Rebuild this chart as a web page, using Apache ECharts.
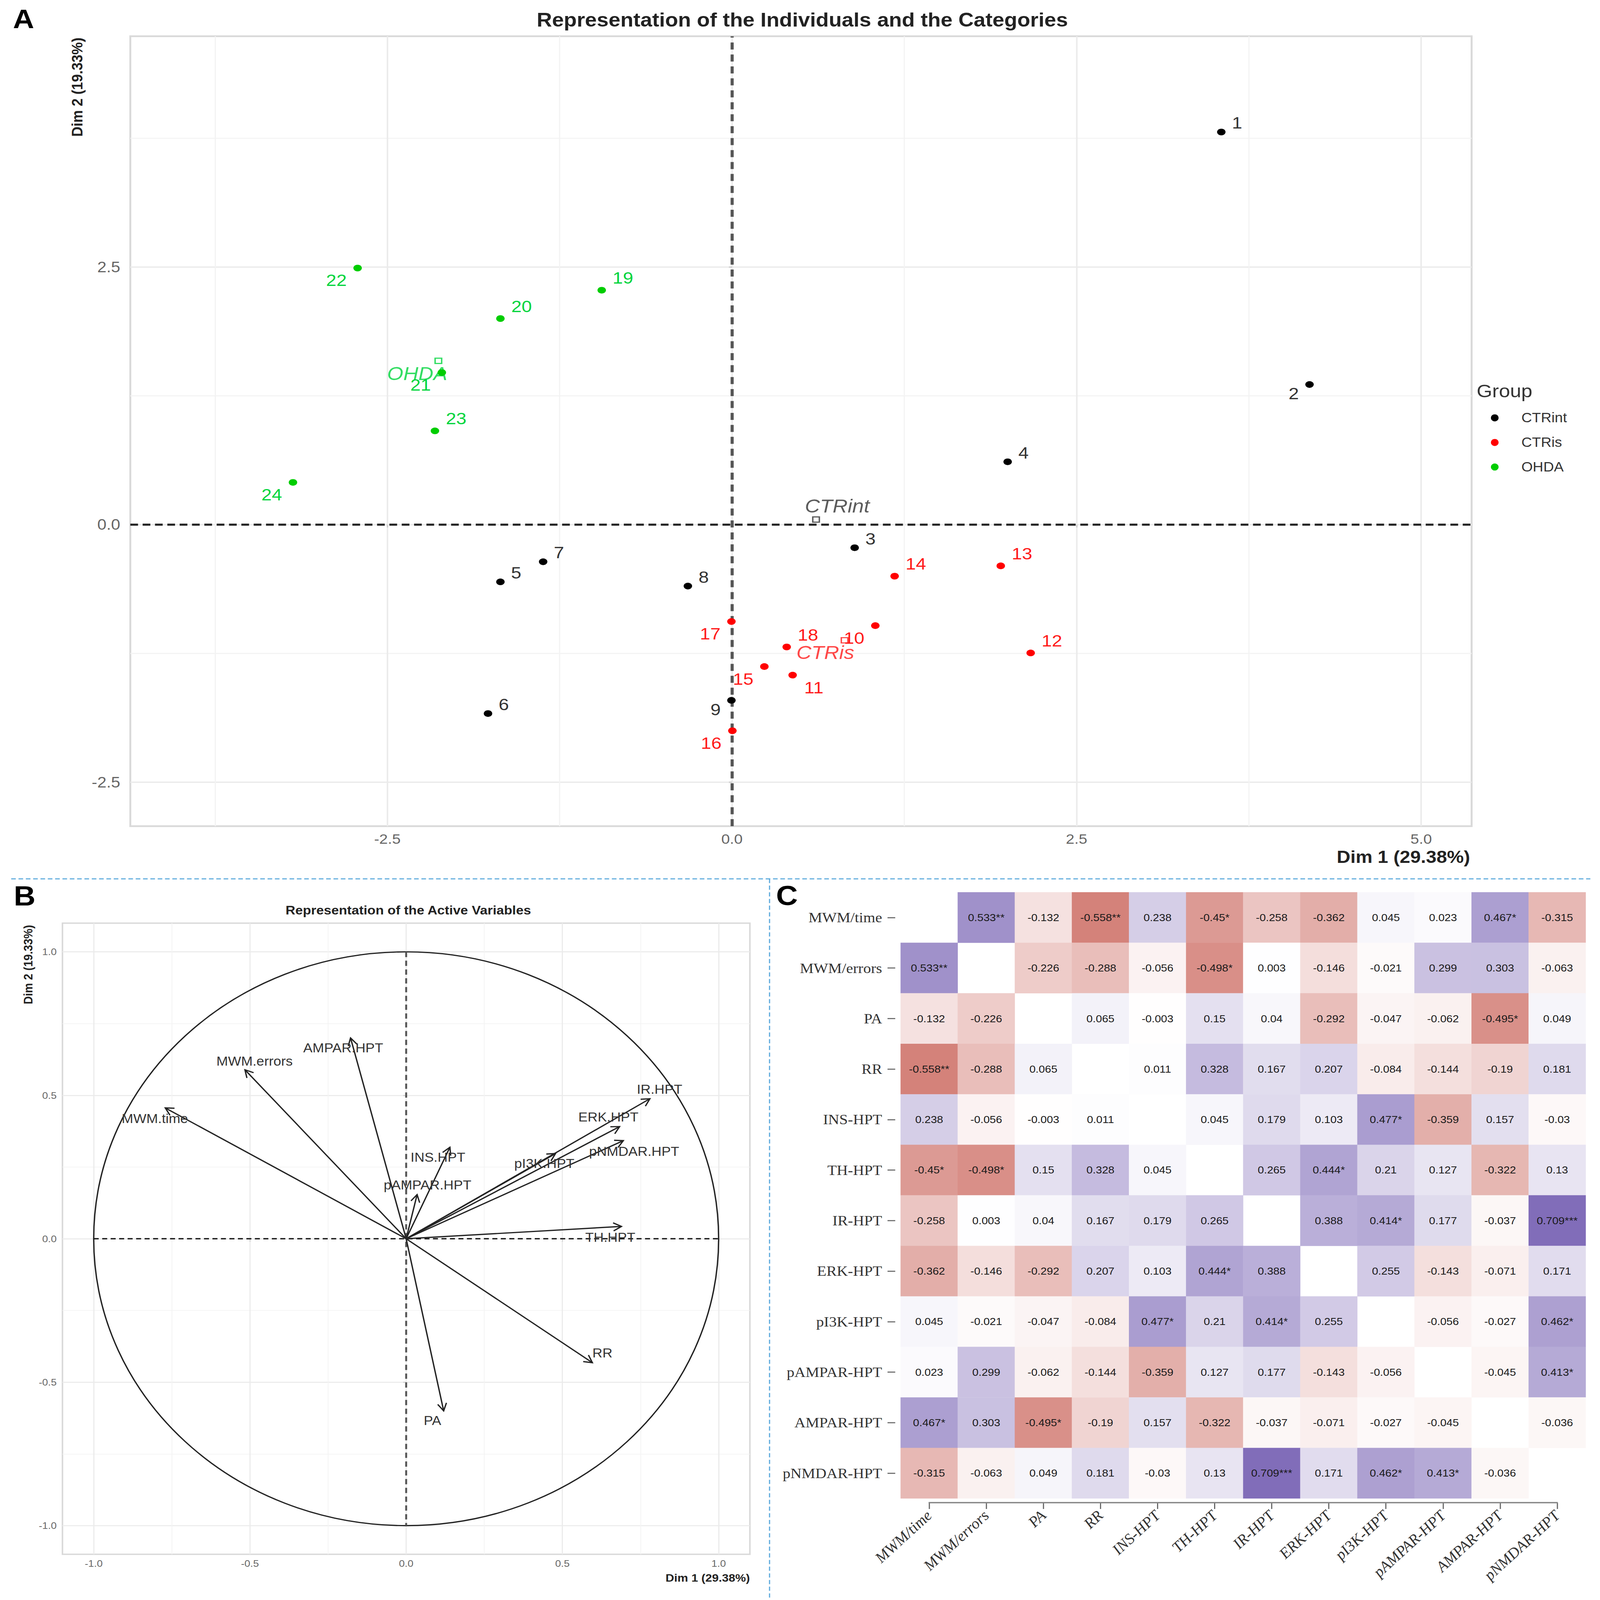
<!DOCTYPE html>
<html>
<head>
<meta charset="utf-8">
<style>html,body{margin:0;padding:0;background:#fff;overflow:hidden;width:100%;height:100%}#c{width:4150px;height:4553px;position:absolute;left:0;top:0;transform-origin:0 0}</style>
<script src="https://cdn.jsdelivr.net/npm/echarts@6/dist/echarts.min.js"></script>
</head>
<body>
<div id="c"></div>
<script>
// ---------- Panel A data ----------
const ctrintIds = [1,2,3,4,5,6,7,8,9];
const ctrintX = [3.55,4.19,0.89,2.00,-1.68,-1.77,-1.37,-0.32,-0.004];
const ctrintY = [3.81,1.36,-0.224,0.61,-0.555,-1.833,-0.36,-0.596,-1.705];
const ctrisIds = [10,11,12,13,14,15,16,17,18];
const ctrisX = [1.04,0.44,2.167,1.95,1.18,0.235,0.003,-0.004,0.397];
const ctrisY = [-0.98,-1.46,-1.245,-0.40,-0.50,-1.377,-2.00,-0.94,-1.187];
const ohdaIds = [19,20,21,22,23,24];
const ohdaX = [-0.945,-1.68,-2.105,-2.716,-2.155,-3.185];
const ohdaY = [2.275,2.0,1.476,2.49,0.91,0.41];
const groupNames = ['CTRint','CTRis','OHDA'];
const groupCentreX = [0.61,0.817,-2.13];
const groupCentreY = [0.05,-1.122,1.59];
const labelsLowerLeft = [2,9,10,15,16,17,21,22,24];
const labelsLowerRight = [11];
const majorTicksAX = [-2.5,0,2.5,5];
const minorTicksAX = [-3.75,-1.25,1.25,3.75];
const majorTicksAY = [-2.5,0,2.5];
const minorTicksAY = [-1.25,1.25,3.75];

// ---------- Panel B data ----------
const varNames = ['MWM.time','MWM.errors','AMPAR.HPT','INS.HPT','pAMPAR.HPT','pI3K.HPT','ERK.HPT','IR.HPT','pNMDAR.HPT','TH.HPT','RR','PA'];
const varX = [-0.771,-0.516,-0.178,0.14,0.035,0.478,0.683,0.78,0.695,0.689,0.596,0.12];
const varY = [0.456,0.589,0.70,0.319,0.154,0.297,0.391,0.488,0.342,0.043,-0.432,-0.60];
const majorTicksB = [-1,-0.5,0,0.5,1];
const minorTicksB = [-0.75,-0.25,0.25,0.75];

// ---------- Panel C data ----------
const corrNames = ['MWM/time','MWM/errors','PA','RR','INS-HPT','TH-HPT','IR-HPT','ERK-HPT','pI3K-HPT','pAMPAR-HPT','AMPAR-HPT','pNMDAR-HPT'];
const corrRow1 = ['','0.533**','-0.132','-0.558**','0.238','-0.45*','-0.258','-0.362','0.045','0.023','0.467*','-0.315'];
const corrRow2 = ['0.533**','','-0.226','-0.288','-0.056','-0.498*','0.003','-0.146','-0.021','0.299','0.303','-0.063'];
const corrRow3 = ['-0.132','-0.226','','0.065','-0.003','0.15','0.04','-0.292','-0.047','-0.062','-0.495*','0.049'];
const corrRow4 = ['-0.558**','-0.288','0.065','','0.011','0.328','0.167','0.207','-0.084','-0.144','-0.19','0.181'];
const corrRow5 = ['0.238','-0.056','-0.003','0.011','','0.045','0.179','0.103','0.477*','-0.359','0.157','-0.03'];
const corrRow6 = ['-0.45*','-0.498*','0.15','0.328','0.045','','0.265','0.444*','0.21','0.127','-0.322','0.13'];
const corrRow7 = ['-0.258','0.003','0.04','0.167','0.179','0.265','','0.388','0.414*','0.177','-0.037','0.709***'];
const corrRow8 = ['-0.362','-0.146','-0.292','0.207','0.103','0.444*','0.388','','0.255','-0.143','-0.071','0.171'];
const corrRow9 = ['0.045','-0.021','-0.047','-0.084','0.477*','0.21','0.414*','0.255','','-0.056','-0.027','0.462*'];
const corrRow10 = ['0.023','0.299','-0.062','-0.144','-0.359','0.127','0.177','-0.143','-0.056','','-0.045','0.413*'];
const corrRow11 = ['0.467*','0.303','-0.495*','-0.19','0.157','-0.322','-0.037','-0.071','-0.027','-0.045','','-0.036'];
const corrRow12 = ['-0.315','-0.063','0.049','0.181','-0.03','0.13','0.709***','0.171','0.462*','0.413*','-0.036',''];
const corrRows = [corrRow1,corrRow2,corrRow3,corrRow4,corrRow5,corrRow6,corrRow7,corrRow8,corrRow9,corrRow10,corrRow11,corrRow12];

// ---------- build ----------
const SANS = '"Liberation Sans"', SERIF = '"Liberation Serif"';
const groupColors = ['#000000','#FF0000','#00CD00'];
const groupTextColors = ['#333333','#FF1A1A','#00D53C'];

function axisPair(gridIndex, dim, min, max, majors, minors, fontSize, margin, majorW, minorW) {
  const major = {
    type:'value', gridIndex, min, max,
    axisLine:{show:false},
    axisTick:{show:true, customValues:majors, length:8, lineStyle:{color:'#D0D0D0', width:majorW}},
    axisLabel:{show:true, customValues:majors, color:'#666666', fontFamily:SANS, fontSize, margin,
      formatter:v=>Number(v).toFixed(1)},
    splitLine:{show:true, lineStyle:{color:'#EBEBEB', width:majorW}}
  };
  const minor = {
    type:'value', gridIndex, min, max,
    position: dim==='x' ? 'top' : 'right',
    axisLine:{show:false},
    axisTick:{show:false, customValues:minors},
    axisLabel:{show:false, customValues:minors},
    splitLine:{show:true, lineStyle:{color:'#F3F3F3', width:minorW}}
  };
  return [major, minor];
}

function pointLabelOffset(id) {
  const w = id >= 10 ? 55 : 41, h = id >= 10 ? 35 : 26;
  if (labelsLowerLeft.includes(id)) return [-w, h];
  if (labelsLowerRight.includes(id)) return [w, h];
  return [w, -h];
}

function pointSeries(name, ids, xs, ys, idx) {
  return {
    type:'scatter', name, xAxisIndex:0, yAxisIndex:0, z:5,
    symbol:'circle', symbolSize:[22,19],
    itemStyle:{color:groupColors[idx], opacity:1},
    data: ids.map((id,i)=>({
      value:[xs[i],ys[i]],
      label:{show:true, formatter:String(id), position:'inside', offset:pointLabelOffset(id),
        color:groupTextColors[idx], fontFamily:SANS, fontSize:48}
    }))
  };
}

const groupLabelOffsets = [[55,-38],[-50,35],[-55,36]];
const centreSeries = {
  type:'scatter', name:'Group centres', xAxisIndex:0, yAxisIndex:0, z:4,
  symbol:'rect', symbolSize:[17,15],
  data: groupNames.map((n,i)=>({
    value:[groupCentreX[i],groupCentreY[i]],
    itemStyle:{color:'#fff', borderColor:groupTextColors[i], borderWidth:3.5},
    label:{show:true, formatter:n, position:'inside', offset:groupLabelOffsets[i],
      color:groupTextColors[i], fontFamily:SANS, fontStyle:'italic', fontSize:54}
  }))
};

const refLinesA = {
  type:'scatter', name:'Axes A', xAxisIndex:0, yAxisIndex:0, z:1, data:[], silent:true,
  markLine:{silent:true, symbol:'none', label:{show:false}, animation:false,
    data:[
      {xAxis:0, lineStyle:{color:'#555555', width:8, type:[20,14]}},
      {yAxis:0, lineStyle:{color:'#222222', width:6, type:[20,12]}}
    ]}
};

const varOffsets = {
  'MWM.time':[-27,30],'MWM.errors':[25,-25],'AMPAR.HPT':[-19,28],'INS.HPT':[-31,28],
  'pAMPAR.HPT':[27,-27],'pI3K.HPT':[-29,28],'ERK.HPT':[-29,-27],'IR.HPT':[25,-27],
  'pNMDAR.HPT':[28,31],'TH.HPT':[-29,31],'RR':[26,-28],'PA':[-29,28]
};

const refB = {
  type:'custom', name:'Unit circle', xAxisIndex:2, yAxisIndex:2, z:2, silent:true, clip:false,
  data:[[0,0]],
  renderItem(params, api){
    const c = api.coord([0,0]), ex = api.coord([1,0]), ey = api.coord([0,1]);
    const wx = api.coord([-1,0]), sy = api.coord([0,-1]);
    return {type:'group', children:[
      {type:'ellipse', shape:{cx:c[0], cy:c[1], rx:ex[0]-c[0], ry:c[1]-ey[1]},
        style:{fill:'none', stroke:'#222222', lineWidth:3.5}},
      {type:'line', shape:{x1:wx[0],y1:c[1],x2:ex[0],y2:c[1]}, style:{stroke:'#111111', lineWidth:3.5, lineDash:[13,9]}},
      {type:'line', shape:{x1:c[0],y1:ey[1],x2:c[0],y2:sy[1]}, style:{stroke:'#555555', lineWidth:5, lineDash:[15,10]}}
    ]};
  }
};

const arrowSeries = {
  type:'custom', name:'Active variables', xAxisIndex:2, yAxisIndex:2, z:3, clip:false,
  data: varNames.map((n,i)=>[varX[i],varY[i]]),
  encode:{x:0,y:1},
  renderItem(params, api){
    const o = api.coord([0,0]), t = api.coord([api.value(0),api.value(1)]);
    const a = Math.atan2(t[1]-o[1], t[0]-o[0]), L = 24, da = 0.5;
    const name = varNames[params.dataIndex], off = varOffsets[name];
    return {type:'group', children:[
      {type:'line', shape:{x1:o[0],y1:o[1],x2:t[0],y2:t[1]}, style:{stroke:'#222222', lineWidth:3.5}},
      {type:'polyline', shape:{points:[
        [t[0]-L*Math.cos(a-da), t[1]-L*Math.sin(a-da)], t,
        [t[0]-L*Math.cos(a+da), t[1]-L*Math.sin(a+da)]]},
        style:{stroke:'#222222', lineWidth:3.5, fill:'none'}},
      {type:'text', x:t[0]+off[0], y:t[1]+off[1], z2:5, style:{text:name, fill:'#333333',
        font:'36px '+SANS, align:'center', verticalAlign:'middle'}}
    ]};
  }
};

const heatData = [];
corrRows.forEach((row,r)=>row.forEach((txt,c)=>{ if(txt!=='') heatData.push([c,r,parseFloat(txt)]); }));

const heatSeries = {
  type:'heatmap', name:'Correlation', xAxisIndex:4, yAxisIndex:4, z:2,
  data:heatData,
  label:{show:true, color:'#1A1A1A', fontFamily:SANS, fontSize:29,
    formatter:p=>corrRows[p.value[1]][p.value[0]]},
  emphasis:{disabled:true}
};

const xLineC = {
  type:'custom', name:'Axis line C', xAxisIndex:4, yAxisIndex:4, z:3, silent:true, clip:false,
  data:[[0,0]],
  renderItem(params, api){
    const n = corrNames.length-1;
    const a = api.coord([0,n]), b = api.coord([n,n]), h = api.size([0,1])[1];
    const y = a[1]+h/2+12;
    return {type:'line', shape:{x1:a[0]-1.5,y1:y,x2:b[0]+1.5,y2:y}, style:{stroke:'#888888', lineWidth:4}};
  }
};

const [xA, xAm] = axisPair(0,'x',-4.365,5.366,majorTicksAX,minorTicksAX,40,16,4,3);
const [yA, yAm] = axisPair(0,'y',-2.926,4.74,majorTicksAY,minorTicksAY,43,26,4,3);
const [xB, xBm] = axisPair(1,'x',-1.1,1.1,majorTicksB,minorTicksB,27,12,3,2);
const [yB, yBm] = axisPair(1,'y',-1.1,1.1,majorTicksB,minorTicksB,27,15,3,2);

const dashBlue = {stroke:'#5AA9DC', lineWidth:3, lineDash:[12,7]};
function txt(text,x,y,font,fill,rot,align){
  return {type:'text', x, y, rotation:rot||0, z:50, style:{text, font, fill:fill||'#111',
    align:align||'center', verticalAlign:'middle'}};
}

const option = {
  animation:false,
  backgroundColor:'#ffffff',
  textStyle:{fontFamily:SANS},
  title:[
    {text:'Representation of the Individuals and the Categories', left:2076, top:24, textAlign:'center',
      textStyle:{fontFamily:SANS, fontWeight:'bold', fontSize:55, color:'#222222'}},
    {text:'Representation of the Active Variables', left:1054, top:2568, textAlign:'center',
      textStyle:{fontFamily:SANS, fontWeight:'bold', fontSize:35, color:'#222222'}}
  ],
  grid:[
    {left:338, top:103, width:3479, height:2248, show:true, backgroundColor:'#fff', borderColor:'#D9D9D9', borderWidth:5},
    {left:162, top:2627, width:1783, height:1796, show:true, backgroundColor:'#fff', borderColor:'#D9D9D9', borderWidth:4},
    {left:2336, top:2539, width:1777, height:1725}
  ],
  xAxis:[xA,xAm,xB,xBm,{
    type:'category', gridIndex:2, data:corrNames, offset:12,
    axisLine:{show:false},
    axisTick:{show:true, alignWithLabel:true, length:18, lineStyle:{color:'#666666', width:3}},
    axisLabel:{rotate:45, interval:0, margin:30, color:'#333333', fontFamily:SERIF, fontStyle:'italic', fontSize:42},
    splitLine:{show:false}
  }],
  yAxis:[yA,yAm,yB,yBm,{
    type:'category', gridIndex:2, data:corrNames, inverse:true, offset:14,
    axisLine:{show:false},
    axisTick:{show:true, alignWithLabel:true, length:20, lineStyle:{color:'#666666', width:3}},
    axisLabel:{interval:0, margin:34, color:'#333333', fontFamily:SERIF, fontSize:40},
    splitLine:{show:false}
  }],
  visualMap:{show:false, seriesIndex:8, min:-1, max:1, dimension:2,
    inRange:{color:['#B21F11','#FFFFFF','#4D319C']}},
  legend:{
    data:groupNames, orient:'vertical', left:3862, top:1165, icon:'circle',
    itemWidth:128, itemHeight:20, itemGap:32, selectedMode:false,
    textStyle:{color:'#333333', fontFamily:SANS, fontSize:38}
  },
  graphic:{elements:[
    {type:'line', shape:{x1:29,y1:2501,x2:4125,y2:2501}, style:dashBlue, z:40},
    {type:'line', shape:{x1:1996,y1:2501,x2:1996,y2:4553}, style:dashBlue, z:40},
    txt('A',61,54,'bold 76px '+SANS,'#000'),
    txt('B',64,2550,'bold 78px '+SANS,'#000'),
    txt('C',2041,2548,'bold 78px '+SANS,'#000'),
    txt('Dim 2 (19.33%)',200,248,'bold 40px '+SANS,'#222',Math.PI/2),
    txt('Dim 1 (29.38%)',3813,2438,'bold 49px '+SANS,'#222',0,'right'),
    txt('Dim 2 (19.33%)',73,2745,'bold 32px '+SANS,'#222',Math.PI/2),
    txt('Dim 1 (29.38%)',1945,4490,'bold 31px '+SANS,'#222',0,'right'),
    txt('Group',3830,1112,'52px '+SANS,'#333',0,'left')
  ]},
  series:[
    refLinesA,
    pointSeries(groupNames[0],ctrintIds,ctrintX,ctrintY,0),
    pointSeries(groupNames[1],ctrisIds,ctrisX,ctrisY,1),
    pointSeries(groupNames[2],ohdaIds,ohdaX,ohdaY,2),
    centreSeries,
    refB,
    arrowSeries,
    xLineC,
    heatSeries
  ]
};
const host = document.getElementById('c');
// The layout is in reference pixels; fit it to whatever window the page really got.
host.style.transform = 'scale(' + (window.innerWidth/4150) + ',' + (window.innerHeight/4553) + ')';
const chart = echarts.init(host, null, {renderer:'svg', width:4150, height:4553});
chart.setOption(option);
</script>
</body>
</html>
